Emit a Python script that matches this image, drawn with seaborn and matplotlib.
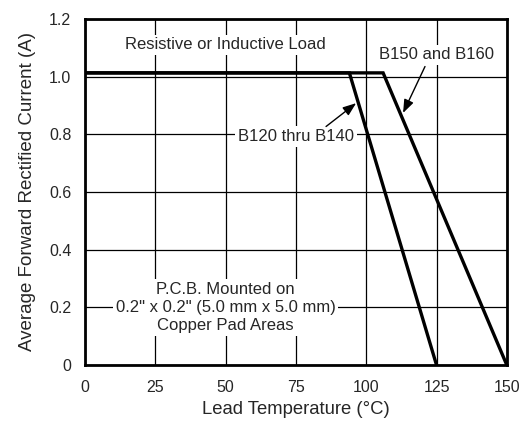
import pandas as pd
import seaborn as sns
import matplotlib.pyplot as plt

# derating curves
temp_b120 = [0, 94, 125]
curr_b120 = [1.013, 1.013, 0]
temp_b150 = [0, 106, 150]
curr_b150 = [1.013, 1.013, 0]

x_ticks = [0, 25, 50, 75, 100, 125, 150]
y_ticks = [0, 0.2, 0.4, 0.6, 0.8, 1.0, 1.2]
y_labels = ['0', '0.2', '0.4', '0.6', '0.8', '1.0', '1.2']

df = pd.concat([
    pd.DataFrame({'temp': temp_b120, 'curr': curr_b120, 'part': 'B120 thru B140'}),
    pd.DataFrame({'temp': temp_b150, 'curr': curr_b150, 'part': 'B150 and B160'}),
])

sns.set_style('white')
plt.rcParams['font.family'] = ['Liberation Sans', 'DejaVu Sans']

fig = plt.figure(figsize=(5.29, 4.21), dpi=100)
ax = fig.add_axes([0.161, 0.133, 0.797, 0.822])

sns.lineplot(data=df, x='temp', y='curr', units='part', estimator=None, sort=False,
             color='black', linewidth=2.4, ax=ax, solid_joinstyle='miter')

ax.set_xlim(0, 150)
ax.set_ylim(0, 1.2)
ax.set_xticks(x_ticks)
ax.set_yticks(y_ticks)
ax.set_yticklabels(y_labels)
ax.tick_params(labelsize=11.5, length=0)
ax.tick_params(axis='x', pad=11)
ax.tick_params(axis='y', pad=10)
ax.grid(True, color='black', linewidth=0.9)
ax.set_axisbelow(True)
for s in ax.spines.values():
    s.set_linewidth(2)
    s.set_color('black')
    s.set_zorder(5)

ax.set_xlabel('Lead Temperature (°C)', fontsize=13.3, labelpad=4)
ax.set_ylabel('Average Forward Rectified Current (A)', fontsize=13.5, labelpad=9)

box = dict(facecolor='white', edgecolor='none', pad=2)
ax.text(50, 1.11, 'Resistive or Inductive Load', ha='center', va='center', fontsize=12, bbox=box)
ax.text(125, 1.075, 'B150 and B160', ha='center', va='center', fontsize=12, bbox=box)
ax.text(74.9, 0.792, 'B120 thru B140', ha='center', va='center', fontsize=12, bbox=box)
ax.text(50, 0.2, 'P.C.B. Mounted on\n0.2" x 0.2" (5.0 mm x 5.0 mm)\nCopper Pad Areas',
        ha='center', va='center', fontsize=12, linespacing=1.25, bbox=box)

arrow = dict(arrowstyle='-|>,head_length=0.8,head_width=0.3', color='black', lw=1, shrinkA=0, shrinkB=0)
ax.annotate('', xy=(113.1, 0.874), xytext=(120.9, 1.035), arrowprops=arrow)
ax.annotate('', xy=(96.4, 0.908), xytext=(85.7, 0.827), arrowprops=arrow)

fig.savefig('out.png', dpi=100)
